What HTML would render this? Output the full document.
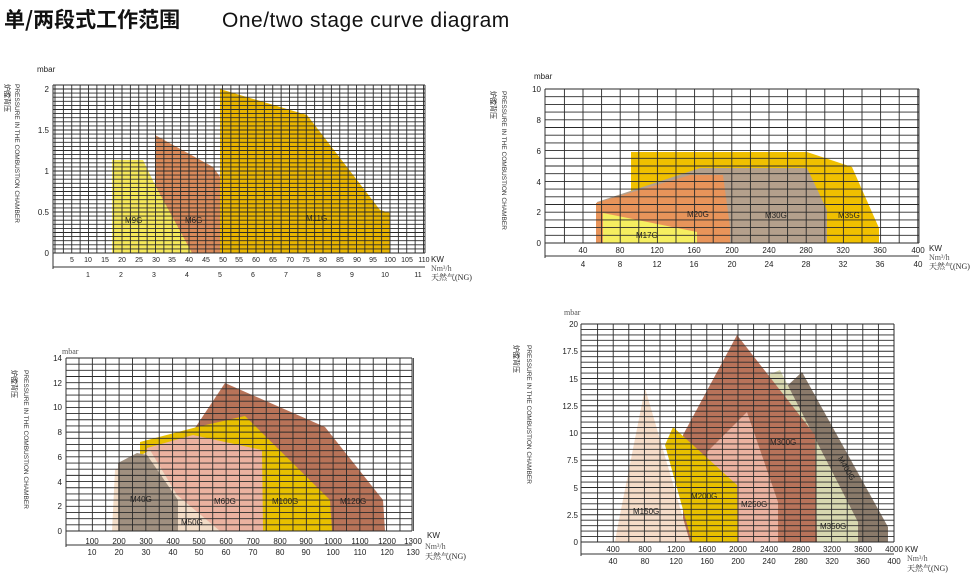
<!DOCTYPE html>
<html><head><meta charset="utf-8"><style>
body{margin:0;background:#fff;width:980px;height:584px;overflow:hidden}
svg{display:block}
text{font-family:"Liberation Sans","Noto Sans CJK SC",sans-serif;fill:#222}
.t{font-size:8px}
.s{font-family:"Liberation Serif","Noto Serif CJK SC",serif;font-size:8px;fill:#555}
.l{font-size:8px;fill:#333}
.c{font-size:7px;font-family:"Noto Sans CJK SC",sans-serif;fill:#222}
</style></head><body>
<svg id="s" width="980" height="584" xmlns="http://www.w3.org/2000/svg">
<text x="4" y="27" style="font-size:21px;font-family:'Noto Sans CJK SC',sans-serif;fill:#111;font-weight:bold">单/两段式工作范围</text>
<text x="222" y="27" style="font-size:21px;fill:#111;letter-spacing:0.5px">One/two stage curve diagram</text>

<polygon points="155,135 213,167 220,177 250,233 250,253 155,253" fill="#d98a5a"/>
<polygon points="112,160 143,160 155,185 192,253 112,253" fill="#f5e85a"/>
<polygon points="220,89 307,115 380,210 390,213 390,253 220,253" fill="#e8b400"/>
<polygon points="631,152 807,152 852,167 879,228 879,243 631,243" fill="#f0c000"/>
<polygon points="597,202 700,168 807,168 827,210 827,243 597,243" fill="#b4a08c"/>
<polygon points="596,203 690,175 723,175 730,227 730,243 596,243" fill="#e8945a"/>
<polygon points="603,213 697,232 697,243 603,243" fill="#f5ee60"/>
<polygon points="195,428 225,383 325,427 383,500 385,531 195,531" fill="#b87358"/>
<polygon points="140,442 197,427 245,416 330,500 332,531 140,531" fill="#e8c000"/>
<polygon points="147,448 193,435 262,450 263,531 147,531" fill="#ebb2a0"/>
<polygon points="112,531 115,470 150,450 177,495 220,531" fill="#f2dcc6"/>
<polygon points="118,463 137,453 147,455 178,500 178,531 118,531" fill="#a09080"/>
<polygon points="785,388 802,372 888,527 888,542 785,542" fill="#8a7a6a"/>
<polygon points="768,375 780,370 858,522 858,542 815,542 815,440" fill="#d8d8b0"/>
<polygon points="683,435 737,335 815,435 817,542 683,542" fill="#b8735a"/>
<polygon points="615,542 617,530 645,388 690,542" fill="#f5dcc8"/>
<polygon points="707,452 747,412 778,502 778,542 707,542" fill="#ebb2a0"/>
<polygon points="665,445 673,427 737,485 738,542 692,542" fill="#e8c000"/>
<g id="g"></g>

<!-- chart1 text -->
<text x="37" y="72" class="t">mbar</text>
<g class="t" text-anchor="end"><text x="49" y="256">0</text><text x="49" y="215">0.5</text><text x="49" y="174">1</text><text x="49" y="133">1.5</text><text x="49" y="92">2</text></g>
<g class="t" text-anchor="middle" style="font-size:7px">
<text x="72" y="262">5</text><text x="88" y="262">10</text><text x="105" y="262">15</text><text x="122" y="262">20</text><text x="139" y="262">25</text><text x="156" y="262">30</text><text x="172" y="262">35</text><text x="189" y="262">40</text><text x="206" y="262">45</text><text x="223" y="262">50</text><text x="239" y="262">55</text><text x="256" y="262">60</text><text x="273" y="262">65</text><text x="290" y="262">70</text><text x="306" y="262">75</text><text x="323" y="262">80</text><text x="340" y="262">85</text><text x="357" y="262">90</text><text x="373" y="262">95</text><text x="390" y="262">100</text><text x="407" y="262">105</text><text x="424" y="262">110</text>
<text x="88" y="277">1</text><text x="121" y="277">2</text><text x="154" y="277">3</text><text x="187" y="277">4</text><text x="220" y="277">5</text><text x="253" y="277">6</text><text x="286" y="277">7</text><text x="319" y="277">8</text><text x="352" y="277">9</text><text x="385" y="277">10</text><text x="418" y="277">11</text></g>
<text x="431" y="262" class="t">KW</text><text x="431" y="271" class="s">Nm³/h</text><text x="431" y="280" class="s" style="fill:#222">天然气(NG)</text>
<text class="l" transform="translate(15,84) rotate(90)" style="font-size:6.5px">PRESSURE IN THE COMBUSTION CHAMBER</text>
<text class="c" transform="translate(5,84) rotate(90)">炉膛背压</text>
<g class="l"><text x="125" y="223">M9G</text><text x="185" y="223">M6G</text><text x="306" y="221">M11G</text></g>

<!-- chart2 text -->
<text x="534" y="79" class="t">mbar</text>
<g class="t" text-anchor="end"><text x="541" y="246">0</text><text x="541" y="215">2</text><text x="541" y="185">4</text><text x="541" y="154">6</text><text x="541" y="123">8</text><text x="541" y="92">10</text></g>
<g class="t" text-anchor="middle"><text x="583" y="253">40</text><text x="620" y="253">80</text><text x="657" y="253">120</text><text x="694" y="253">160</text><text x="732" y="253">200</text><text x="769" y="253">240</text><text x="806" y="253">280</text><text x="843" y="253">320</text><text x="880" y="253">360</text><text x="918" y="253">400</text>
<text x="583" y="267">4</text><text x="620" y="267">8</text><text x="657" y="267">12</text><text x="694" y="267">16</text><text x="732" y="267">20</text><text x="769" y="267">24</text><text x="806" y="267">28</text><text x="843" y="267">32</text><text x="880" y="267">36</text><text x="918" y="267">40</text></g>
<text x="929" y="251" class="t">KW</text><text x="929" y="260" class="s">Nm³/h</text><text x="929" y="269" class="s" style="fill:#222">天然气(NG)</text>
<text class="l" transform="translate(502,91) rotate(90)" style="font-size:6.5px">PRESSURE IN THE COMBUSTION CHAMBER</text>
<text class="c" transform="translate(491,91) rotate(90)">炉膛背压</text>
<g class="l"><text x="687" y="217">M20G</text><text x="765" y="218">M30G</text><text x="838" y="218">M35G</text><text x="636" y="238">M17G</text></g>

<!-- chart3 text -->
<text x="62" y="354" class="s">mbar</text>
<g class="t" text-anchor="end"><text x="62" y="534">0</text><text x="62" y="509">2</text><text x="62" y="485">4</text><text x="62" y="460">6</text><text x="62" y="435">8</text><text x="62" y="410">10</text><text x="62" y="386">12</text><text x="62" y="361">14</text></g>
<g class="t" text-anchor="middle"><text x="92" y="544">100</text><text x="119" y="544">200</text><text x="146" y="544">300</text><text x="173" y="544">400</text><text x="199" y="544">500</text><text x="226" y="544">600</text><text x="253" y="544">700</text><text x="280" y="544">800</text><text x="306" y="544">900</text><text x="333" y="544">1000</text><text x="360" y="544">1100</text><text x="387" y="544">1200</text><text x="413" y="544">1300</text>
<text x="92" y="555">10</text><text x="119" y="555">20</text><text x="146" y="555">30</text><text x="173" y="555">40</text><text x="199" y="555">50</text><text x="226" y="555">60</text><text x="253" y="555">70</text><text x="280" y="555">80</text><text x="306" y="555">90</text><text x="333" y="555">100</text><text x="360" y="555">110</text><text x="387" y="555">120</text><text x="413" y="555">130</text></g>
<text x="427" y="538" class="t">KW</text><text x="425" y="549" class="s">Nm³/h</text><text x="425" y="559" class="s" style="fill:#222">天然气(NG)</text>
<text class="l" transform="translate(24,370) rotate(90)" style="font-size:6.5px">PRESSURE IN THE COMBUSTION CHAMBER</text>
<text class="c" transform="translate(12,370) rotate(90)">炉膛背压</text>
<g class="l"><text x="130" y="502">M40G</text><text x="181" y="525">M50G</text><text x="214" y="504">M60G</text><text x="272" y="504">M100G</text><text x="340" y="504">M120G</text></g>

<!-- chart4 text -->
<text x="564" y="315" class="s">mbar</text>
<g class="t" text-anchor="end"><text x="578" y="545">0</text><text x="578" y="518">2.5</text><text x="578" y="491">5</text><text x="578" y="463">7.5</text><text x="578" y="436">10</text><text x="578" y="409">12.5</text><text x="578" y="382">15</text><text x="578" y="354">17.5</text><text x="578" y="327">20</text></g>
<g class="t" text-anchor="middle"><text x="613" y="552">400</text><text x="645" y="552">800</text><text x="676" y="552">1200</text><text x="707" y="552">1600</text><text x="738" y="552">2000</text><text x="769" y="552">2400</text><text x="801" y="552">2800</text><text x="832" y="552">3200</text><text x="863" y="552">3600</text><text x="894" y="552">4000</text>
<text x="613" y="564">40</text><text x="645" y="564">80</text><text x="676" y="564">120</text><text x="707" y="564">160</text><text x="738" y="564">200</text><text x="769" y="564">240</text><text x="801" y="564">280</text><text x="832" y="564">320</text><text x="863" y="564">360</text><text x="894" y="564">400</text></g>
<text x="905" y="552" class="t">KW</text><text x="907" y="561" class="s">Nm³/h</text><text x="907" y="571" class="s" style="fill:#222">天然气(NG)</text>
<text class="l" transform="translate(527,345) rotate(90)" style="font-size:6.5px">PRESSURE IN THE COMBUSTION CHAMBER</text>
<text class="c" transform="translate(514,345) rotate(90)">炉膛背压</text>
<g class="l"><text x="633" y="514">M150G</text><text x="691" y="499">M200G</text><text x="741" y="507">M250G</text><text x="770" y="445">M300G</text><text x="820" y="529">M350G</text><text x="832" y="462" transform="rotate(60 838 465)">M400G</text></g>
</svg>
<script>
var g=document.getElementById('g'),h='';
function L(x1,y1,x2,y2,w,c){h+='<line x1="'+x1+'" y1="'+y1+'" x2="'+x2+'" y2="'+y2+'" stroke="'+(c||'#2a2a2a')+'" stroke-width="'+(w||0.9)+'"/>';}
function grid(l,r,t,b,dy,xs,ax){
  for(var y=b;y>=t-0.5;y-=dy)L(l,y,r,y);
  for(var i=0;i<xs.length;i++)L(xs[i],t,xs[i],b);
  L(l,t,l,ax+2,1,'#333');L(r,t,r,b);L(l,t,r,t);
  L(l,ax,r,ax,1,'#333');
}
var xs=[];for(var k=0;k<=110;k+=2.5)xs.push(55+k*3.35);
grid(53,425,85,253,4.1,xs,267);
xs=[];for(k=20;k<=400;k+=20)xs.push(545.8+k*0.93);
grid(545,919,89,243,7.7,xs,256);
xs=[];for(k=50;k<=1300;k+=50)xs.push(65.6+k*0.2675);
grid(66,412,358,531,6.18,xs,545);
xs=[];for(k=200;k<=4000;k+=200)xs.push(582+k*0.078);
grid(581,894,324,542,5.45,xs,554);
g.innerHTML=h;
</script>
</body></html>
